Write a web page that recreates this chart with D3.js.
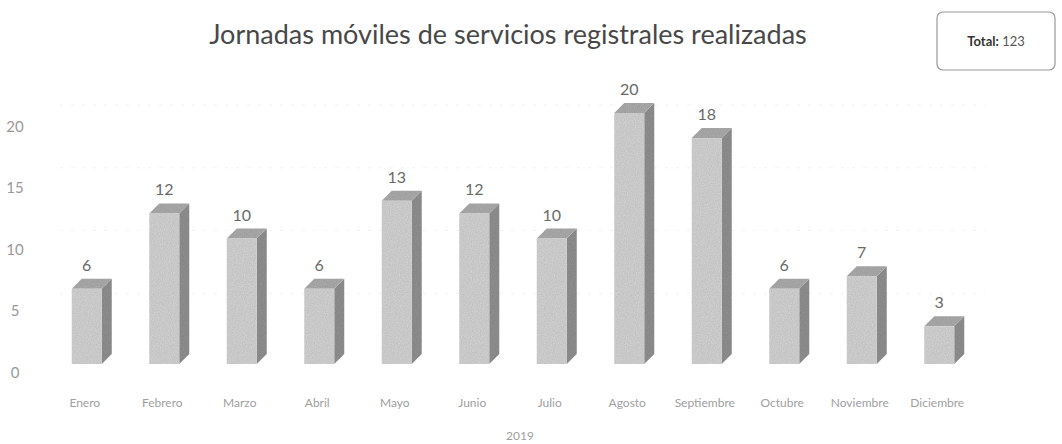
<!DOCTYPE html>
<html>
<head>
<meta charset="utf-8">
<script src="https://cdn.jsdelivr.net/npm/d3@7"></script>
<style>
  body { margin: 0; background: #fff; }
  svg { display: block; font-family: Lato, "Open Sans", sans-serif; }
</style>
</head>
<body>
<div id="chart"></div>
<script>
const months = ["Enero", "Febrero", "Marzo", "Abril", "Mayo", "Junio", "Julio", "Agosto", "Septiembre", "Octubre", "Noviembre", "Diciembre"];
const jornadas = [6, 12, 10, 6, 13, 12, 10, 20, 18, 6, 7, 3];
const yTicks = [0, 5, 10, 15, 20];
const title = "Jornadas móviles de servicios registrales realizadas";
const yearLabel = "2019";
const total = 123;

const w = 1062, h = 444;
const depth = 10;
const svg = d3.select("#chart").append("svg").attr("width", w).attr("height", h);

// grainy print look
const grain = svg.append("defs").append("filter").attr("id", "grain")
  .attr("x", 0).attr("y", 0).attr("width", 1).attr("height", 1);
grain.append("feTurbulence").attr("type", "fractalNoise").attr("baseFrequency", 0.9).attr("numOctaves", 2).attr("seed", 3).attr("result", "noise");
grain.append("feColorMatrix").attr("in", "noise").attr("type", "matrix")
  .attr("values", "0 0 0 0 0.5  0 0 0 0 0.5  0 0 0 0 0.5  0.5 0 0 0 -0.05").attr("result", "n2");
grain.append("feComposite").attr("in", "n2").attr("in2", "SourceGraphic").attr("operator", "in").attr("result", "n3");
grain.append("feBlend").attr("in", "SourceGraphic").attr("in2", "n3").attr("mode", "multiply");

const x = d3.scaleBand().domain(months).range([53, 983]);
const y = d3.scaleLinear().domain([0, 20]).range([364, 113]);
const yLab = d3.scaleLinear().domain([0, 20]).range([374, 128]);

// faint back-wall gridlines
svg.append("g")
  .selectAll("line")
  .data(yTicks.slice(1))
  .join("line")
  .attr("x1", 60).attr("x2", 985)
  .attr("y1", (d) => y(d) - depth + 2).attr("y2", (d) => y(d) - depth + 2)
  .attr("stroke", "#f0f0f0").attr("stroke-dasharray", "3,8");

// y labels
svg.append("g")
  .selectAll("text")
  .data(yTicks)
  .join("text")
  .attr("x", 15).attr("y", (d) => yLab(d))
  .attr("text-anchor", "middle").attr("dominant-baseline", "middle")
  .attr("font-size", 15).attr("fill", "#999")
  .text((d) => d);

const bars = svg.append("g")
  .selectAll("g")
  .data(months.map((m, i) => ({ m, v: jornadas[i] })))
  .join("g")
  .attr("transform", (d) => `translate(${x(d.m) + x.bandwidth() / 2 - 20},0)`);

const bw = 30;
const shapes = bars.append("g").attr("filter", "url(#grain)");
// side face
shapes.append("path")
  .attr("d", (d) => `M${bw},${y(d.v)} L${bw + depth},${y(d.v) - depth} L${bw + depth},${y(0) - depth} L${bw},${y(0)} Z`)
  .attr("fill", "#909090");
// top face
shapes.append("path")
  .attr("d", (d) => `M0,${y(d.v)} L${depth},${y(d.v) - depth} L${bw + depth},${y(d.v) - depth} L${bw},${y(d.v)} Z`)
  .attr("fill", "#ababab");
// front face
shapes.append("rect")
  .attr("x", 0).attr("width", bw)
  .attr("y", (d) => y(d.v)).attr("height", (d) => y(0) - y(d.v))
  .attr("fill", "#d2d2d2");
// value labels
bars.append("text")
  .attr("x", bw / 2).attr("y", (d) => y(d.v) - depth - 8)
  .attr("text-anchor", "middle")
  .attr("font-size", 16).attr("fill", "#6a6a6a")
  .text((d) => d.v);

// month labels
svg.append("g")
  .selectAll("text")
  .data(months)
  .join("text")
  .attr("x", (d) => x(d) + x.bandwidth() / 2 - 7).attr("y", 407)
  .attr("text-anchor", "middle")
  .attr("font-size", 12).attr("fill", "#a0a0a0")
  .text((d) => d);

svg.append("text")
  .attr("x", 520).attr("y", 440)
  .attr("text-anchor", "middle")
  .attr("font-size", 12).attr("fill", "#a0a0a0")
  .text(yearLabel);

svg.append("text")
  .attr("x", 508).attr("y", 44)
  .attr("text-anchor", "middle")
  .attr("font-size", 27).attr("fill", "#484848")
  .text(title);

// total box
svg.append("rect")
  .attr("x", 937).attr("y", 12).attr("width", 118).attr("height", 58).attr("rx", 6)
  .attr("fill", "none").attr("stroke", "#999").attr("stroke-width", 1.2);
const tot = svg.append("text")
  .attr("x", 996).attr("y", 46)
  .attr("text-anchor", "middle")
  .attr("font-size", 13).attr("fill", "#333");
tot.append("tspan").attr("font-weight", "bold").text("Total:");
tot.append("tspan").attr("fill", "#555").text(" " + total);
</script>
</body>
</html>
